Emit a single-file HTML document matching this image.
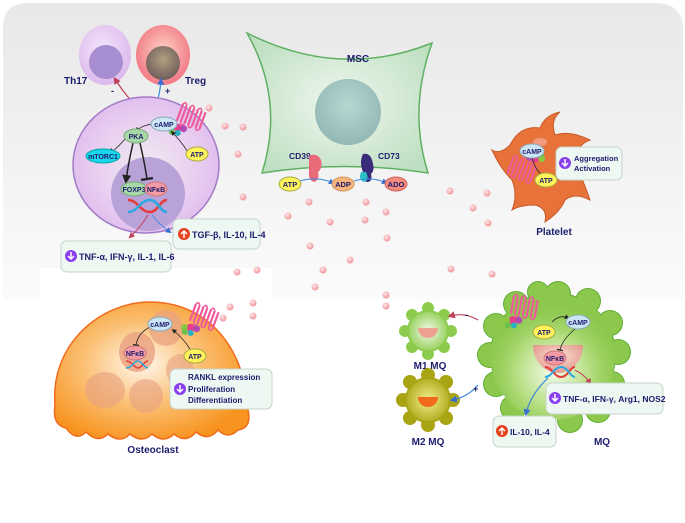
<!DOCTYPE html>
<html><head><meta charset="utf-8"><style>
html,body{margin:0;padding:0;background:#fff}
svg{display:block}
text{font-family:"Liberation Sans",sans-serif;font-weight:bold;fill:#1c1c6e}
</style></head><body>
<svg width="685" height="523" viewBox="0 0 685 523" xmlns="http://www.w3.org/2000/svg">
<defs>
<linearGradient id="bg" x1="0" y1="0" x2="0" y2="1"><stop offset="0" stop-color="#e8e8e8"/><stop offset="1" stop-color="#fbfbfb"/></linearGradient>
<radialGradient id="th17" cx=".45" cy=".4" r=".6"><stop offset="0" stop-color="#f4e6fa"/><stop offset="1" stop-color="#dcb9ec"/></radialGradient>
<radialGradient id="treg" cx=".5" cy=".45" r=".6"><stop offset="0" stop-color="#ffd6c8"/><stop offset="1" stop-color="#f0707e"/></radialGradient>
<radialGradient id="tn" cx=".5" cy=".4" r=".6"><stop offset="0" stop-color="#b0a080"/><stop offset="1" stop-color="#6f5d5a"/></radialGradient>
<radialGradient id="cell" cx=".5" cy=".5" r=".6"><stop offset="0" stop-color="#f0eaf0"/><stop offset=".6" stop-color="#e8cdf0"/><stop offset="1" stop-color="#dcb6ec"/></radialGradient>
<radialGradient id="msc" cx=".5" cy=".5" r=".6"><stop offset="0" stop-color="#eef7ee"/><stop offset="1" stop-color="#bfdfc2"/></radialGradient>
<radialGradient id="mscn" cx=".5" cy=".4" r=".6"><stop offset="0" stop-color="#b5d8d2"/><stop offset="1" stop-color="#93b7b5"/></radialGradient>
<radialGradient id="ost" cx=".45" cy=".45" r=".6"><stop offset="0" stop-color="#fff8ee"/><stop offset=".5" stop-color="#fbc074"/><stop offset="1" stop-color="#f7931e"/></radialGradient>
<radialGradient id="mq" cx=".5" cy=".6" r=".6"><stop offset="0" stop-color="#f3faea"/><stop offset=".5" stop-color="#b6de82"/><stop offset="1" stop-color="#8cc84c" stop-opacity="0"/></radialGradient>
<radialGradient id="m1" cx=".5" cy=".5" r=".6"><stop offset="0" stop-color="#f3faea"/><stop offset="1" stop-color="#8ccc4c"/></radialGradient>
<radialGradient id="m2" cx=".5" cy=".5" r=".6"><stop offset="0" stop-color="#f4ee8c"/><stop offset="1" stop-color="#a8a414"/></radialGradient>
<radialGradient id="dot" cx=".4" cy=".35" r=".7"><stop offset="0" stop-color="#ffe6e6"/><stop offset="1" stop-color="#ef8e94"/></radialGradient>
<radialGradient id="nuc" cx=".5" cy=".4" r=".6"><stop offset="0" stop-color="#fbe0d8"/><stop offset="1" stop-color="#e39a8c"/></radialGradient>
<marker id="ah" markerWidth="6" markerHeight="6" refX="4" refY="3" orient="auto"><path d="M0,0 L6,3 L0,6z" fill="#222"/></marker>
<marker id="ar" markerWidth="6" markerHeight="6" refX="4" refY="3" orient="auto"><path d="M0,0 L6,3 L0,6z" fill="#c0405a"/></marker>
<marker id="ab" markerWidth="6" markerHeight="6" refX="4" refY="3" orient="auto"><path d="M0,0 L6,3 L0,6z" fill="#3a6fd0"/></marker>
<marker id="tb" markerWidth="6" markerHeight="8" refX="1" refY="4" orient="auto"><path d="M1,0 L1,8" stroke="#222" stroke-width="1.5"/></marker>
<g id="rec"><g fill="none" stroke="#ee5a9a" stroke-width="2.2">
<path d="M0,0 v18 M4,0 v18 M8,0 v18 M12,0 v18 M16,0 v18 M20,0 v18 M24,0 v18"/></g>
<path d="M0,0 q2,-4 4,0 M8,0 q2,-4 4,0 M16,0 q2,-4 4,0 M4,18 q2,4 4,0 M12,18 q2,4 4,0 M20,18 q2,4 4,0" stroke="#ee5a9a" fill="none" stroke-width="1.5"/>
<circle cx="3" cy="24" r="4" fill="#e83c8c"/><circle cx="9" cy="23" r="3.5" fill="#b04ab0"/><circle cx="-3" cy="26" r="3.5" fill="#8cc63f"/><circle cx="5" cy="29" r="3" fill="#2ab0c0"/><circle cx="-1" cy="30" r="3" fill="#6cc050"/></g>
</defs>
<rect x="0" y="0" width="685" height="523" fill="#fff"/>
<path d="M3,290 V28 Q3,3 28,3 H655 Q683,3 683,30 V300 H3z" fill="url(#bg)"/>
<rect x="40" y="268" width="232" height="80" fill="#fff"/>

<ellipse cx="105" cy="55" rx="26" ry="30" fill="url(#th17)"/>
<circle cx="106" cy="62" r="17" fill="#a78ed0"/>
<ellipse cx="163" cy="55" rx="27" ry="30" fill="url(#treg)"/>
<circle cx="163" cy="63" r="17" fill="url(#tn)"/>
<text x="64" y="84" font-size="10">Th17</text>
<text x="185" y="84" font-size="10">Treg</text>
<path d="M138,108 Q125,95 115,79" stroke="#c0405a" fill="none" stroke-width="1.2" marker-end="url(#ar)"/>
<path d="M155,108 Q160,95 161,80" stroke="#3a8ae0" fill="none" stroke-width="1.2" marker-end="url(#ab)"/>
<text x="111" y="94" font-size="9">-</text><text x="165" y="94" font-size="9">+</text>

<ellipse cx="146" cy="165" rx="73" ry="68" fill="url(#cell)" stroke="#a27bc6" stroke-width="1.5"/>
<circle cx="148" cy="194" r="37" fill="#b9a2d8"/>
<use href="#rec" transform="translate(183,104) rotate(20)"/>
<path d="M152,124 Q140,126 137,131" stroke="#222" fill="none" stroke-width=".8" marker-end="url(#ah)"/>
<path d="M188,152 Q180,140 172,132" stroke="#222" fill="none" stroke-width=".8" marker-end="url(#ah)"/>
<path d="M125,139 Q118,147 113,151" stroke="#222" fill="none" stroke-width=".8" marker-end="url(#tb)"/>
<path d="M133,143 Q128,165 126,181" stroke="#222" fill="none" stroke-width="1.5" marker-end="url(#ah)"/>
<path d="M140,143 Q145,165 147,179" stroke="#222" fill="none" stroke-width="1.5" marker-end="url(#tb)"/>
<ellipse cx="164" cy="124" rx="13" ry="7" fill="#cde6f4" stroke="#8ab"/>
<text x="164" y="127" font-size="7" text-anchor="middle">cAMP</text>
<ellipse cx="136" cy="136" rx="12" ry="7" fill="#a8d8a8" stroke="#7a7"/>
<text x="136" y="139" font-size="7" text-anchor="middle">PKA</text>
<ellipse cx="103" cy="156" rx="17" ry="7" fill="#1ad6ea" stroke="#0aa"/>
<text x="103" y="159" font-size="7" text-anchor="middle">mTORC1</text>
<ellipse cx="197" cy="154" rx="11" ry="7" fill="#fff35c" stroke="#aa4"/>
<text x="197" y="157" font-size="7" text-anchor="middle">ATP</text>
<ellipse cx="134" cy="189" rx="13" ry="7" fill="#a8d8a8" stroke="#7a7"/>
<text x="134" y="192" font-size="7" text-anchor="middle">FOXP3</text>
<ellipse cx="156" cy="189" rx="11" ry="7" fill="#f49aa4" stroke="#c77"/>
<text x="156" y="192" font-size="7" text-anchor="middle">NFκB</text>
<path d="M128,200 C138,200 140,212 150,212 C158,212 160,200 167,200" stroke="#e43a3a" fill="none" stroke-width="2.5"/>
<path d="M128,212 C138,212 140,200 150,200 C158,200 160,212 167,212" stroke="#2aa8e0" fill="none" stroke-width="2.5"/>
<path d="M148,215 Q140,228 130,237" stroke="#c0405a" fill="none" stroke-width="1" marker-end="url(#ar)"/>
<path d="M152,215 Q160,225 170,232" stroke="#3a8ae0" fill="none" stroke-width="1" marker-end="url(#ab)"/>
<rect x="173" y="219" width="87" height="30" rx="6" fill="#eef8f2" stroke="#c5d3ca"/>
<circle cx="184" cy="234" r="6" fill="#e8401c"/><path d="M184,238 v-7 M181,234 l3,-3 l3,3" stroke="#fff" stroke-width="1.5" fill="none"/>
<text x="192" y="238" font-size="9">TGF-β, IL-10, IL-4</text>
<rect x="61" y="241" width="110" height="31" rx="6" fill="#eef8f2" stroke="#c5d3ca"/>
<circle cx="71" cy="256" r="6" fill="#8a3ff0"/><path d="M71,252 v7 M68,256 l3,3 l3,-3" stroke="#fff" stroke-width="1.5" fill="none"/>
<text x="79" y="260" font-size="9">TNF-α, IFN-γ, IL-1, IL-6</text>

<path d="M247,33 Q340,80 432,43 Q408,110 428,173 Q345,160 262,173 Q285,100 247,33z" fill="url(#msc)" stroke="#5fb063" stroke-width="1.5"/>
<circle cx="348" cy="112" r="33" fill="url(#mscn)"/>
<text x="358" y="62" font-size="10" text-anchor="middle">MSC</text>
<text x="289" y="159" font-size="8.5">CD39</text><text x="378" y="159" font-size="8.5">CD73</text>
<path d="M309,156 q8,-4 12,4 q2,8 -3,12 q2,8 -4,10 q-6,-2 -5,-10z" fill="#e96a78"/>
<path d="M363,154 q8,-2 10,10 q2,6 -2,10 q2,8 -4,8 q-6,-2 -4,-10 q-4,-10 0,-18z" fill="#3a2a7a"/>
<path d="M366,172 q4,8 -2,10 q-6,-2 -3,-10z" fill="#2ac0c8"/>
<path d="M300,181 Q318,176 333,183" stroke="#3a8ae0" fill="none" stroke-width="1" marker-end="url(#ab)"/>
<path d="M354,181 Q372,176 386,183" stroke="#3a8ae0" fill="none" stroke-width="1" marker-end="url(#ab)"/>
<ellipse cx="290" cy="184" rx="11" ry="7" fill="#fff35c" stroke="#aa4"/><text x="290" y="187" font-size="7.5" text-anchor="middle">ATP</text>
<ellipse cx="343" cy="184" rx="11" ry="7" fill="#f8b47a" stroke="#c96"/><text x="343" y="187" font-size="7.5" text-anchor="middle">ADP</text>
<ellipse cx="396" cy="184" rx="11" ry="7" fill="#f58a7a" stroke="#c66"/><text x="396" y="187" font-size="7.5" text-anchor="middle">ADO</text>

<path d="M510,145 Q520,125 540,128 Q545,115 560,112 Q550,120 555,135 Q570,130 590,140 Q575,145 576,165 Q585,185 590,200 Q575,192 565,200 Q560,212 545,222 Q548,208 535,205 Q520,205 512,210 Q518,195 512,180 Q500,168 492,150 Q500,155 510,145z" fill="#e8733a" stroke="#c85a28"/>
<ellipse cx="540" cy="142" rx="7" ry="4" fill="#f49a80"/>
<use href="#rec" transform="translate(530,182) rotate(200)"/>
<path d="M532,158 Q536,172 544,176" stroke="#222" fill="none" stroke-width=".8"/>
<ellipse cx="532" cy="151" rx="12" ry="7" fill="#cde6f4" stroke="#8ab"/><text x="532" y="154" font-size="7" text-anchor="middle">cAMP</text>
<ellipse cx="546" cy="180" rx="11" ry="7" fill="#fff35c" stroke="#aa4"/><text x="546" y="183" font-size="7" text-anchor="middle">ATP</text>
<rect x="556" y="147" width="66" height="33" rx="6" fill="#eef8f2" stroke="#c5d3ca"/>
<circle cx="565" cy="163" r="6" fill="#8a3ff0"/><path d="M565,159 v7 M562,163 l3,3 l3,-3" stroke="#fff" stroke-width="1.5" fill="none"/>
<text x="574" y="161" font-size="7.5">Aggregation</text><text x="574" y="171" font-size="7.5">Activation</text>
<text x="554" y="235" font-size="10" text-anchor="middle">Platelet</text>

<g fill="url(#dot)">
<circle cx="209" cy="108" r="3.5"/><circle cx="225" cy="126" r="3.5"/><circle cx="243" cy="127" r="3.5"/><circle cx="238" cy="154" r="3.5"/><circle cx="243" cy="197" r="3.5"/><circle cx="288" cy="216" r="3.5"/><circle cx="330" cy="222" r="3.5"/><circle cx="309" cy="202" r="3.5"/><circle cx="366" cy="202" r="3.5"/><circle cx="365" cy="220" r="3.5"/><circle cx="386" cy="212" r="3.5"/><circle cx="387" cy="238" r="3.5"/><circle cx="310" cy="246" r="3.5"/><circle cx="350" cy="260" r="3.5"/><circle cx="323" cy="270" r="3.5"/><circle cx="450" cy="191" r="3.5"/><circle cx="487" cy="193" r="3.5"/><circle cx="488" cy="223" r="3.5"/><circle cx="473" cy="208" r="3.5"/><circle cx="451" cy="269" r="3.5"/><circle cx="492" cy="274" r="3.5"/><circle cx="257" cy="270" r="3.5"/><circle cx="237" cy="272" r="3.5"/><circle cx="315" cy="287" r="3.5"/><circle cx="230" cy="307" r="3.5"/><circle cx="253" cy="303" r="3.5"/><circle cx="253" cy="316" r="3.5"/><circle cx="223" cy="318" r="3.5"/><circle cx="386" cy="306" r="3.5"/><circle cx="516" cy="297" r="3.5"/><circle cx="386" cy="295" r="3.5"/>
</g>

<path d="M55,405 C50,345 100,302 150,302 C205,302 245,345 248,410 Q252,428 238,430 Q228,440 218,430 Q208,442 196,432 Q186,444 174,434 Q164,444 152,434 Q142,444 130,434 Q120,444 108,434 Q98,444 86,432 Q76,442 66,428 Q52,425 55,405z" fill="url(#ost)" stroke="#f26a1b" stroke-width="1.5"/>
<ellipse cx="137" cy="352" rx="18" ry="20" fill="#e8a080" opacity=".8"/>
<ellipse cx="166" cy="328" rx="17" ry="18" fill="#e8a080" opacity=".7"/>
<ellipse cx="105" cy="390" rx="20" ry="18" fill="#e8a080" opacity=".6"/>
<ellipse cx="146" cy="396" rx="17" ry="17" fill="#e8a080" opacity=".6"/>
<ellipse cx="180" cy="370" rx="14" ry="16" fill="#e8a080" opacity=".6"/>
<use href="#rec" transform="translate(196,304) rotate(20)"/>
<path d="M150,327 Q138,333 136,345" stroke="#222" fill="none" stroke-width=".8" marker-end="url(#tb)"/>
<path d="M190,349 Q183,338 173,330" stroke="#222" fill="none" stroke-width=".8" marker-end="url(#ah)"/>
<ellipse cx="160" cy="324" rx="12" ry="7" fill="#cde6f4" stroke="#8ab"/><text x="160" y="327" font-size="7" text-anchor="middle">cAMP</text>
<ellipse cx="135" cy="353" rx="11" ry="7" fill="#f49aa4" stroke="#c77"/><text x="135" y="356" font-size="7" text-anchor="middle">NFκB</text>
<path d="M126,361 C132,361 134,368 138,368 C142,368 144,361 148,361" stroke="#e43a3a" fill="none" stroke-width="1.5"/>
<path d="M126,368 C132,368 134,361 138,361 C142,361 144,368 148,368" stroke="#2aa8e0" fill="none" stroke-width="1.5"/>
<ellipse cx="195" cy="356" rx="11" ry="7" fill="#fff35c" stroke="#aa4"/><text x="195" y="359" font-size="7" text-anchor="middle">ATP</text>
<rect x="170" y="369" width="102" height="40" rx="6" fill="#eef8f2" stroke="#c5d3ca"/>
<circle cx="180" cy="389" r="6" fill="#8a3ff0"/><path d="M180,385 v7 M177,389 l3,3 l3,-3" stroke="#fff" stroke-width="1.5" fill="none"/>
<text x="188" y="380" font-size="8">RANKL expression</text><text x="188" y="392" font-size="8">Proliferation</text><text x="188" y="403" font-size="8">Differentiation</text>
<text x="153" y="453" font-size="10" text-anchor="middle">Osteoclast</text>

<g fill="#8ccc4c"><circle cx="428" cy="331" r="21"/>
<circle cx="428" cy="308" r="6"/><circle cx="428" cy="354" r="6"/><circle cx="405" cy="331" r="6"/><circle cx="451" cy="331" r="6"/><circle cx="412" cy="315" r="6"/><circle cx="444" cy="315" r="6"/><circle cx="412" cy="347" r="6"/><circle cx="444" cy="347" r="6"/></g>
<circle cx="428" cy="331" r="19" fill="url(#m1)"/>
<path d="M418,328 h20 a10,10 0 0 1 -20,0z" fill="#f0a090"/>
<text x="430" y="369" font-size="10" text-anchor="middle">M1 MQ</text>
<g fill="#a8a414"><circle cx="428" cy="400" r="23"/>
<circle cx="428" cy="375" r="7"/><circle cx="428" cy="425" r="7"/><circle cx="403" cy="400" r="7"/><circle cx="453" cy="400" r="7"/><circle cx="410" cy="382" r="7"/><circle cx="446" cy="382" r="7"/><circle cx="410" cy="418" r="7"/><circle cx="446" cy="418" r="7"/></g>
<circle cx="428" cy="400" r="21" fill="url(#m2)"/>
<path d="M418,397 h20 a10,10 0 0 1 -20,0z" fill="#f06a1a"/>
<text x="428" y="445" font-size="10" text-anchor="middle">M2 MQ</text>
<path d="M478,320 Q465,312 450,316" stroke="#c0405a" fill="none" stroke-width="1.2" marker-end="url(#ar)"/>
<text x="465" y="318" font-size="10">-</text>
<path d="M478,385 Q468,397 452,400" stroke="#3a8ae0" fill="none" stroke-width="1.2" marker-end="url(#ab)"/>
<text x="473" y="392" font-size="9">+</text>

<g fill="#5fae35">
<circle cx="553" cy="355" r="63"/>
<circle cx="558" cy="294" r="13"/><circle cx="588" cy="301" r="13"/><circle cx="610" cy="323" r="13"/><circle cx="618" cy="352" r="13"/><circle cx="612" cy="384" r="13"/><circle cx="598" cy="410" r="13"/><circle cx="570" cy="420" r="13"/><circle cx="540" cy="418" r="13"/><circle cx="513" cy="408" r="13"/><circle cx="496" cy="384" r="13"/><circle cx="490" cy="355" r="13"/><circle cx="496" cy="326" r="13"/><circle cx="516" cy="304" r="13"/><circle cx="538" cy="292" r="11"/>
</g>
<g fill="#8cc84c">
<circle cx="553" cy="355" r="62"/>
<circle cx="558" cy="294" r="12"/><circle cx="588" cy="301" r="12"/><circle cx="610" cy="323" r="12"/><circle cx="618" cy="352" r="12"/><circle cx="612" cy="384" r="12"/><circle cx="598" cy="410" r="12"/><circle cx="570" cy="420" r="12"/><circle cx="540" cy="418" r="12"/><circle cx="513" cy="408" r="12"/><circle cx="496" cy="384" r="12"/><circle cx="490" cy="355" r="12"/><circle cx="496" cy="326" r="12"/><circle cx="516" cy="304" r="12"/><circle cx="538" cy="292" r="10"/>
</g>
<ellipse cx="553" cy="360" rx="62" ry="60" fill="url(#mq)"/>
<path d="M533,345 h50 a25,28 0 0 1 -50,0z" fill="url(#nuc)"/>
<use href="#rec" transform="translate(514,296) rotate(10)"/>
<path d="M552,322 Q560,314 568,318" stroke="#222" fill="none" stroke-width=".8" marker-end="url(#ah)"/>
<path d="M575,329 Q562,340 560,350" stroke="#222" fill="none" stroke-width=".8" marker-end="url(#tb)"/>
<ellipse cx="544" cy="332" rx="11" ry="7" fill="#fff35c" stroke="#aa4"/><text x="544" y="335" font-size="7" text-anchor="middle">ATP</text>
<ellipse cx="578" cy="322" rx="12" ry="7" fill="#cde6f4" stroke="#8ab"/><text x="578" y="325" font-size="7" text-anchor="middle">cAMP</text>
<ellipse cx="555" cy="358" rx="11" ry="7" fill="#f49aa4" stroke="#c77"/><text x="555" y="361" font-size="7" text-anchor="middle">NFκB</text>
<path d="M545,367 C552,367 554,377 561,377 C568,377 570,367 575,367" stroke="#e43a3a" fill="none" stroke-width="2"/>
<path d="M545,377 C552,377 554,367 561,367 C568,367 570,377 575,377" stroke="#2aa8e0" fill="none" stroke-width="2"/>
<path d="M548,378 Q530,395 526,414" stroke="#3a8ae0" fill="none" stroke-width="1.2" marker-end="url(#ab)"/>
<path d="M575,370 Q585,375 590,383" stroke="#c0405a" fill="none" stroke-width="1" marker-end="url(#ar)"/>
<rect x="546" y="383" width="117" height="31" rx="6" fill="#eef8f2" stroke="#c5d3ca"/>
<circle cx="555" cy="398" r="6" fill="#8a3ff0"/><path d="M555,394 v7 M552,398 l3,3 l3,-3" stroke="#fff" stroke-width="1.5" fill="none"/>
<text x="563" y="402" font-size="8.5">TNF-α, IFN-γ, Arg1, NOS2</text>
<rect x="493" y="416" width="63" height="31" rx="6" fill="#eef8f2" stroke="#c5d3ca"/>
<circle cx="502" cy="431" r="6" fill="#e8401c"/><path d="M502,435 v-7 M499,431 l3,-3 l3,3" stroke="#fff" stroke-width="1.5" fill="none"/>
<text x="510" y="435" font-size="8.5">IL-10, IL-4</text>
<text x="602" y="445" font-size="10" text-anchor="middle">MQ</text>
</svg>
</body></html>
